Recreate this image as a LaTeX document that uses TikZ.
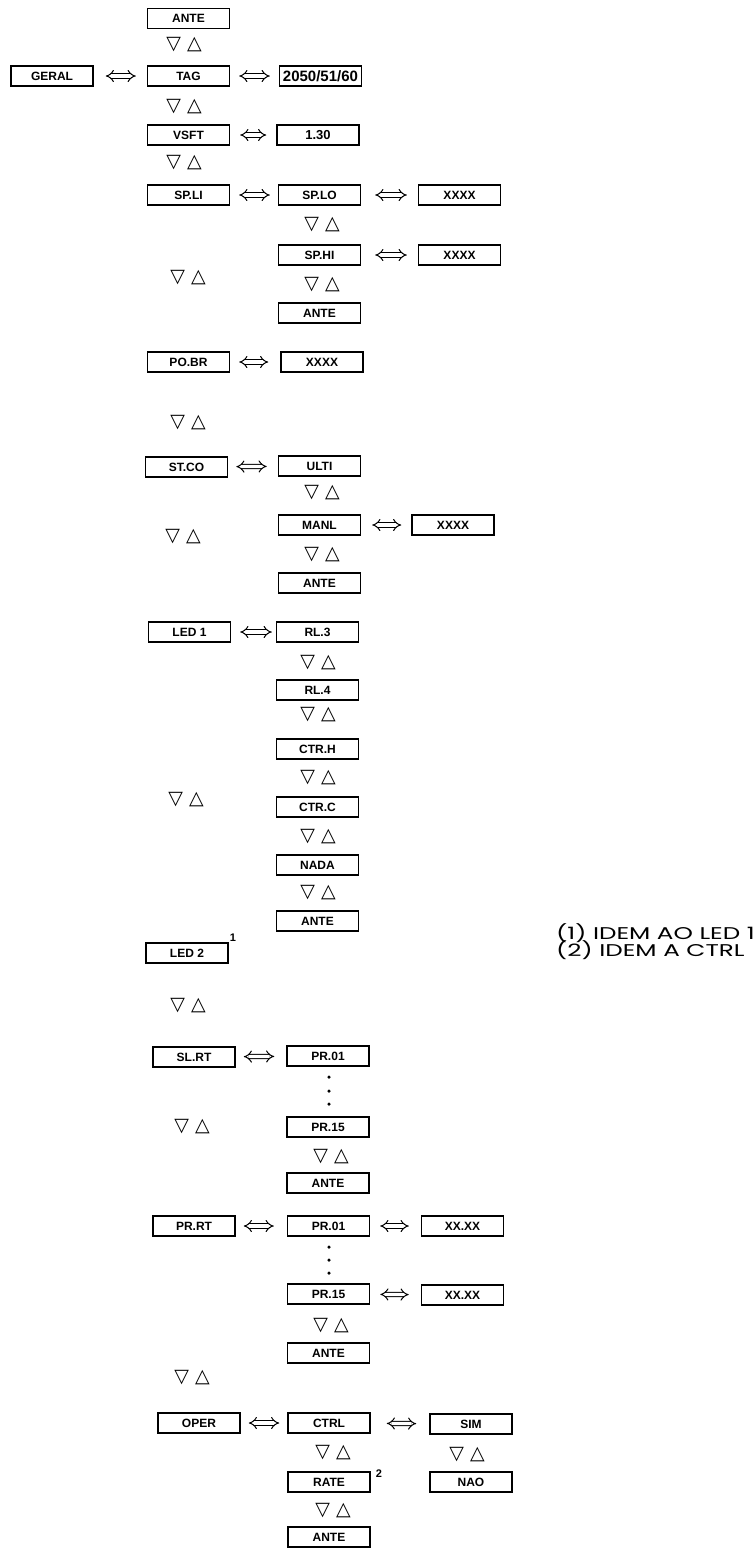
\documentclass[tikz,border=0pt]{standalone}
\usepackage{fontspec}
\usetikzlibrary{arrows.meta}
\newfontfamily\caixafont{Liberation Sans}
\newfontfamily\trifont{DejaVu Sans}
\newfontfamily\notafont{Poppins}[FakeStretch=1.45]

\begin{document}
\begin{tikzpicture}[x=1pt, y=-1pt,
    caixa/.style={draw, line width=1.5pt, minimum width=82pt, minimum height=20pt, inner sep=0pt,
      font=\caixafont\bfseries\fontsize{12}{12}\selectfont},
    tri/.style={inner sep=0pt, font=\trifont\fontsize{19}{19}\selectfont},
    seta/.style={double, double distance=3.2pt, line width=1pt,
      {Implies[length=8pt, width=14pt]}-{Implies[length=8pt, width=14pt]},
      shorten <=10pt, shorten >=10pt},
    ponto/.style={circle, fill, inner sep=0pt, minimum size=3.5pt},
    indice/.style={inner sep=0pt, font=\caixafont\bfseries\fontsize{11}{11}\selectfont},
    nota/.style={inner sep=0pt, anchor=west, font=\notafont\fontsize{17}{17}\selectfont}]
    \useasboundingbox (0,0) rectangle (754,1548);

    % 箱を置く
    \node[caixa] (ante0) at (188.5,18.5) {ANTE};
    \node[caixa] (geral) at (52,76) {GERAL};
    \node[caixa] (tag) at (188.5,76) {TAG};
    \node[caixa, font=\caixafont\bfseries\fontsize{15}{15}\selectfont] (versao) at (320.5,76) {2050/51/60};
    \node[caixa] (vsft) at (188.5,135) {VSFT};
    \node[caixa, font=\caixafont\bfseries\fontsize{13}{13}\selectfont] (vnum) at (318,135) {1.30};
    \node[caixa] (spli) at (188.5,195) {SP.LI};
    \node[caixa] (splo) at (319.5,195) {SP.LO};
    \node[caixa] (xlo) at (459.5,195) {XXXX};
    \node[caixa] (sphi) at (319.5,255) {SP.HI};
    \node[caixa] (xhi) at (459.5,255) {XXXX};
    \node[caixa] (ante1) at (319.5,313) {ANTE};
    \node[caixa] (pobr) at (188.5,362) {PO.BR};
    \node[caixa] (xpo) at (322,362) {XXXX};
    \node[caixa] (stco) at (186.5,467) {ST.CO};
    \node[caixa] (ulti) at (319.5,466) {ULTI};
    \node[caixa] (manl) at (319.5,525) {MANL};
    \node[caixa] (xman) at (453,525) {XXXX};
    \node[caixa] (ante2) at (319.5,583) {ANTE};
    \node[caixa] (led1) at (189.5,632) {LED 1};
    \node[caixa] (rl3) at (317.5,632) {RL.3};
    \node[caixa] (rl4) at (317.5,690) {RL.4};
    \node[caixa] (ctrh) at (317.5,749) {CTR.H};
    \node[caixa] (ctrc) at (317.5,807) {CTR.C};
    \node[caixa] (nada) at (317.5,865) {NADA};
    \node[caixa] (ante3) at (317.5,921) {ANTE};
    \node[caixa] (led2) at (187,953) {LED 2};
    \node[caixa] (slrt) at (194,1057) {SL.RT};
    \node[caixa] (pra1) at (328,1056) {PR.01};
    \node[caixa] (pra15) at (328,1127) {PR.15};
    \node[caixa] (ante4) at (328,1183) {ANTE};
    \node[caixa] (prrt) at (194,1226) {PR.RT};
    \node[caixa] (prb1) at (328.5,1226) {PR.01};
    \node[caixa] (xb1) at (462.5,1226) {XX.XX};
    \node[caixa] (prb15) at (328.5,1294) {PR.15};
    \node[caixa] (xb15) at (462.5,1295) {XX.XX};
    \node[caixa] (ante5) at (328.5,1353) {ANTE};
    \node[caixa] (oper) at (199,1423) {OPER};
    \node[caixa] (ctrl) at (329,1423) {CTRL};
    \node[caixa] (sim) at (471,1424) {SIM};
    \node[caixa] (rate) at (329,1482) {RATE};
    \node[caixa] (nao) at (471,1482) {NAO};
    \node[caixa] (ante6) at (329,1537) {ANTE};

    % 矢印
    \draw[seta, shorten <=12pt, shorten >=11pt] (geral) -- (tag);
    \draw[seta, shorten <=9pt, shorten >=9pt] (tag) -- (versao);
    \draw[seta] (vsft) -- (vnum);
    \draw[seta, shorten <=9pt, shorten >=8pt] (spli) -- (splo);
    \draw[seta, shorten <=14pt, shorten >=11pt] (splo) -- (xlo);
    \draw[seta, shorten <=14pt, shorten >=11pt] (sphi) -- (xhi);
    \draw[seta, shorten <=9pt, shorten >=12pt] (pobr) -- (xpo);
    \draw[seta, shorten <=8pt, shorten >=11pt] (stco) -- (ulti);
    \draw[seta, shorten <=11pt, shorten >=10pt] (manl) -- (xman);
    \draw[seta, shorten <=9pt, shorten >=4pt] (led1) -- (rl3);
    \draw[seta, shorten <=8pt, shorten >=12pt] (slrt) -- (pra1);
    \draw[seta, shorten <=8pt, shorten >=13pt] (prrt) -- (prb1);
    \draw[seta, shorten <=10pt, shorten >=12pt] (prb1) -- (xb1);
    \draw[seta, shorten <=10pt, shorten >=12pt] (prb15) -- (xb15);
    \draw[seta, shorten <=8pt, shorten >=8pt] (oper) -- (ctrl);
    \draw[seta, shorten <=16pt, shorten >=13pt] (ctrl) -- (sim);

    % 三角
    \node[tri] (t1) at (184,45) {▽ △};
    \node[tri] (t2) at (184,107) {▽ △};
    \node[tri] (t3) at (184,163) {▽ △};
    \node[tri] (t4) at (322,225) {▽ △};
    \node[tri] (t5) at (188,278) {▽ △};
    \node[tri] (t6) at (322,285) {▽ △};
    \node[tri] (t7) at (188,423) {▽ △};
    \node[tri] (t8) at (322,493) {▽ △};
    \node[tri] (t9) at (183,537) {▽ △};
    \node[tri] (t10) at (322,555) {▽ △};
    \node[tri] (t11) at (318,663) {▽ △};
    \node[tri] (t12) at (318,715) {▽ △};
    \node[tri] (t13) at (318,778) {▽ △};
    \node[tri] (t14) at (186,800) {▽ △};
    \node[tri] (t15) at (318,837) {▽ △};
    \node[tri] (t16) at (318,893) {▽ △};
    \node[tri] (t17) at (188,1006) {▽ △};
    \node[tri] (t18) at (192,1127) {▽ △};
    \node[tri] (t19) at (331,1157) {▽ △};
    \node[tri] (t20) at (331,1326) {▽ △};
    \node[tri] (t21) at (192,1378) {▽ △};
    \node[tri] (t22) at (333,1453) {▽ △};
    \node[tri] (t23) at (467,1455) {▽ △};
    \node[tri] (t24) at (333,1511) {▽ △};

    % 点
    \node[ponto] (d1) at (329,1077) {};
    \node[ponto] (d2) at (329,1091) {};
    \node[ponto] (d3) at (329,1104) {};
    \node[ponto] (d4) at (329,1247) {};
    \node[ponto] (d5) at (329,1260) {};
    \node[ponto] (d6) at (329,1273) {};

    % 注記
    \node[indice] (n1) at (233,938) {1};
    \node[indice] (n2) at (379,1474) {2};
    \node[nota] (nota1) at (556,933) {(1) IDEM AO LED 1};
    \node[nota] (nota2) at (556,950) {(2) IDEM A CTRL};
\end{tikzpicture}
\end{document}
